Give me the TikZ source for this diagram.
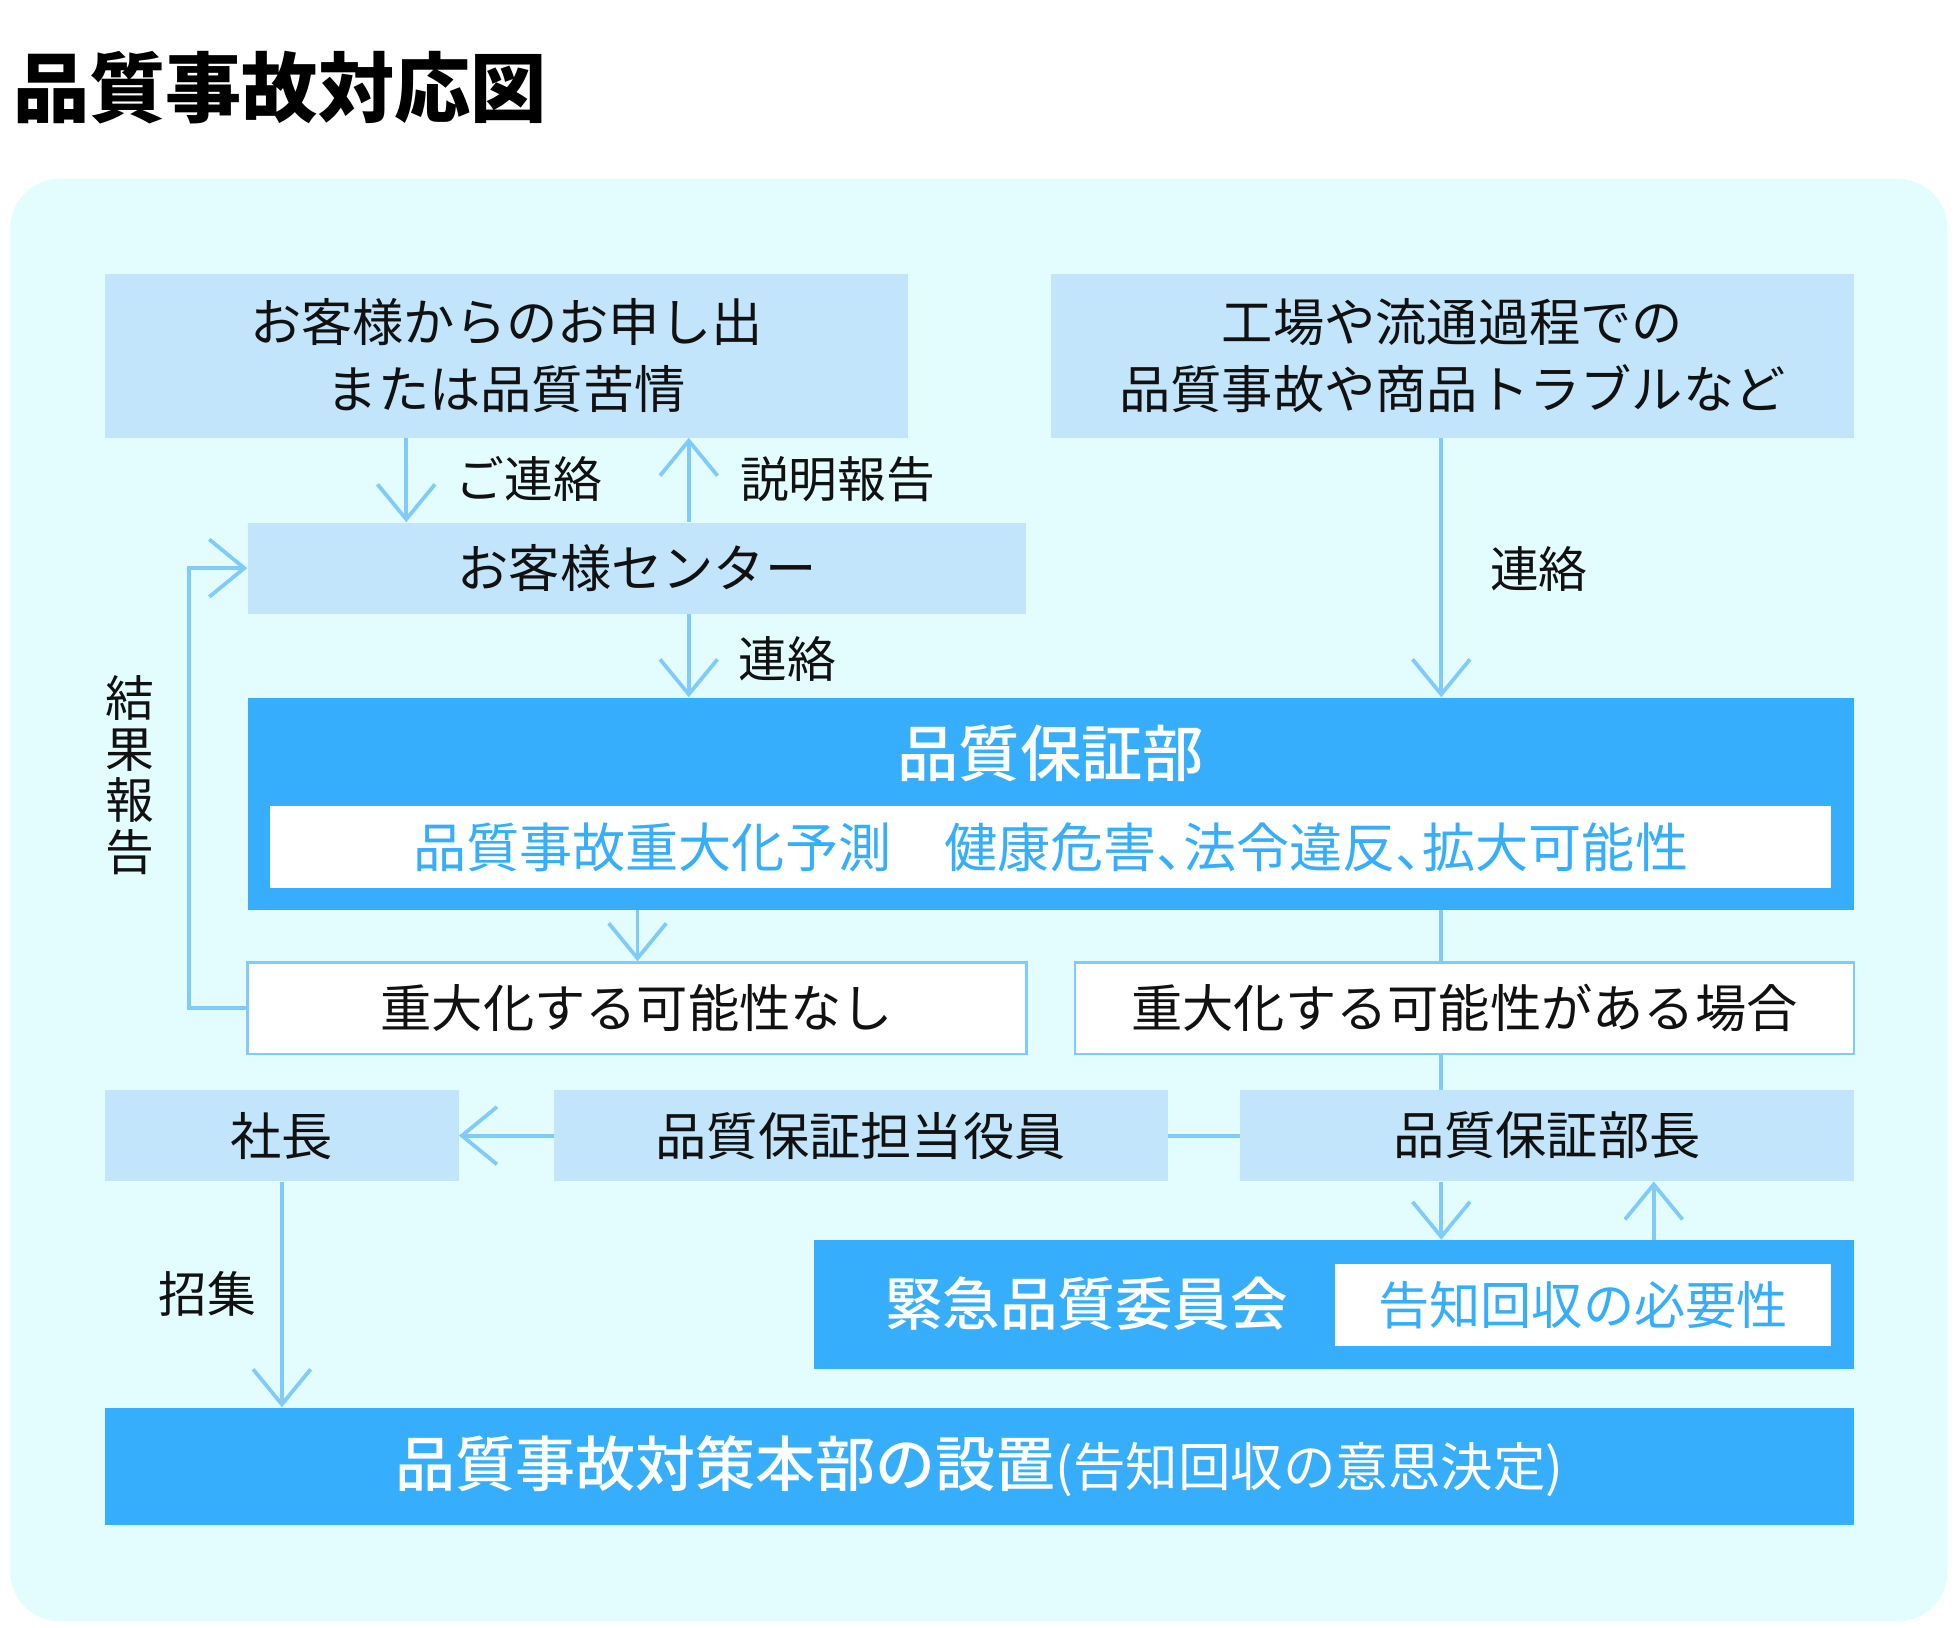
\documentclass[tikz,border=0pt]{standalone}
\usepackage{fontspec}
\setmainfont{Noto Sans CJK JP}
\newfontfamily\medfont{Noto Sans CJK JP Medium}
\usetikzlibrary{arrows.meta}
\definecolor{bgc}{HTML}{E3FDFE}
\definecolor{lightc}{HTML}{C2E5FC}
\definecolor{darkc}{HTML}{36AEFC}
\definecolor{linec}{HTML}{80CBFA}
\definecolor{inkc}{HTML}{111111}
\newcommand\tenh{\makebox[0.5em][l]{、}}
\tikzset{
  every node/.style={inner sep=0pt, text=inkc, font=\fontsize{41}{53}\selectfont},
  lbox/.style={fill=lightc, minimum height=73},
  obox/.style={fill=white, draw=linec, line width=2, minimum height=73},
  dbox/.style={fill=darkc},
  wbox/.style={fill=white, text=darkc},
  htext/.style={text=white, font=\fontsize{#1}{#1}\selectfont\medfont},
  lbl/.style={font=\fontsize{39}{41}\selectfont},
  conn/.style={draw=linec, line width=3},
  arr/.style={conn, -{Straight Barb[length=28pt,width=46pt]}}
}

\begin{document}
\begin{tikzpicture}[x=1pt,y=-1pt]
\useasboundingbox (0,0) rectangle (1566.4,1302.4);
\fill[bgc, rounded corners=40] (8,143) rectangle (1558,1297);
\node[font=\fontsize{61}{61}\selectfont\bfseries, text=black] (title) at (224,70) {品質事故対応図};

\coordinate (c1) at (325,0);
\coordinate (c2) at (551,0);
\coordinate (c3) at (1153,0);
\coordinate (c4) at (510,0);
\coordinate (c6) at (1323,0);

\node[lbox, minimum width=642, minimum height=131, align=center] (b1) at (405,284.5) {お客様からのお申し出\\または品質苦情};
\node[lbox, minimum width=642, minimum height=131, align=center] (b2) at (1162,284.5) {工場や流通過程での\\品質事故や商品トラブルなど};
\node[lbox, minimum width=623] (b3) at (509.5,454.5) {お客様センター};

\node[dbox, minimum width=1285, minimum height=170] (qa) at (840.5,643) {};
\node[htext=49] (qat) at (840.5,603) {品質保証部};
\node[wbox, minimum width=1249, minimum height=65, font=\fontsize{42.5}{42.5}\selectfont] (qap) at (840.5,677.5) {品質事故重大化予測　健康危害\tenh 法令違反\tenh 拡大可能性};

\node[obox, minimum width=623] (n1) at (509.5,806.5) {重大化する可能性なし};
\node[obox, minimum width=623] (n2) at (1171.5,806.5) {重大化する可能性がある場合};

\node[lbox, minimum width=283] (pres) at (225.5,908.5) {社長};
\node[lbox, minimum width=491] (exec) at (688.5,908.5) {品質保証担当役員};
\node[lbox, minimum width=491] (mgr) at (1237.5,908.5) {品質保証部長};

\node[dbox, minimum width=832, minimum height=103] (comm) at (1067,1043.5) {};
\node[htext=46] (commt) at (869,1043) {緊急品質委員会};
\node[wbox, minimum width=397, minimum height=66] (commp) at (1266.5,1044) {告知回収の必要性};

\node[dbox, minimum width=1399, minimum height=94, text=white] (hq) at (783.5,1173)
  {{\fontsize{48}{48}\selectfont\medfont 品質事故対策本部の設置}{\fontsize{42}{42}\selectfont (告知回収の意思決定)}};

% labels
\node[lbl] (l1) at (423,383) {ご連絡};
\node[lbl] (l2) at (670,383) {説明報告};
\node[lbl] (l3) at (1231,455) {連絡};
\node[lbl] (l4) at (630,527) {連絡};
\node[lbl] (l5) at (166,1035) {招集};
\node[lbl, align=center] (l6) at (104,620) {結\\果\\報\\告};

% connectors
\draw[arr] (b1.south -| c1) -- (b3.north -| c1);
\draw[arr] (b3.north -| c2) -- (b1.south -| c2);
\draw[arr] (b2.south -| c3) -- (qa.north -| c3);
\draw[arr] (b3.south -| c2) -- (qa.north -| c2);
\draw[arr] (qa.south -| c4) -- (n1.north -| c4);
\draw[conn] (qa.south -| c3) -- (n2.north -| c3);
\draw[conn] (n2.south -| c3) -- (mgr.north -| c3);
\draw[arr] (n1.west) -- ++(-46,0) |- (b3.west);
\draw[arr] (exec.west) -- (pres.east);
\draw[conn] (mgr.west) -- (exec.east);
\draw[arr] (pres.south) -- (hq.north -| pres.south);
\draw[arr] (mgr.south -| c3) -- (comm.north -| c3);
\draw[arr] (comm.north -| c6) -- (mgr.south -| c6);
\end{tikzpicture}
\end{document}
